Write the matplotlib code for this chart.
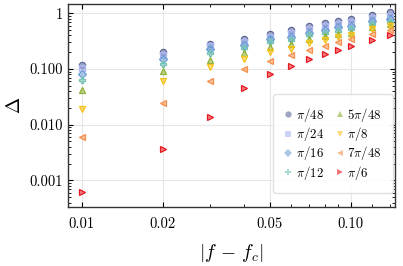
import matplotlib
matplotlib.use('Agg')
import matplotlib.pyplot as plt
from matplotlib.ticker import FixedLocator, FuncFormatter, NullFormatter

plt.rcParams['font.family'] = 'serif'
plt.rcParams['font.serif'] = ['cmr10']
plt.rcParams['mathtext.fontset'] = 'cm'
plt.rcParams['axes.unicode_minus'] = False

df = [0.01, 0.02, 0.03, 0.04, 0.05, 0.06, 0.07, 0.08, 0.09, 0.10, 0.12, 0.14]

labels = [r'$\pi/48$', r'$\pi/24$', r'$\pi/16$', r'$\pi/12$',
          r'$5\pi/48$', r'$\pi/8$', r'$7\pi/48$', r'$\pi/6$']
colors = ['#5c6699', '#a9b6f2', '#6e9fd6', '#73c2b5',
          '#8fb339', '#f7c21a', '#f7904a', '#e8161e']
markers = ['o', 's', 'D', 'P', '^', 'v', '<', '>']

gap_48 = [0.116, 0.20, 0.284, 0.35, 0.43, 0.50, 0.60, 0.67, 0.72, 0.79, 0.94, 1.04]
gap_24 = [0.104, 0.18, 0.255, 0.31, 0.38, 0.45, 0.53, 0.58, 0.64, 0.70, 0.81, 0.90]
gap_16 = [0.083, 0.151, 0.228, 0.273, 0.345, 0.38, 0.45, 0.50, 0.56, 0.60, 0.72, 0.80]
gap_12 = [0.064, 0.124, 0.19, 0.238, 0.30, 0.336, 0.40, 0.44, 0.49, 0.53, 0.64, 0.71]
gap_5_48 = [0.0425, 0.093, 0.145, 0.194, 0.248, 0.28, 0.346, 0.385, 0.425, 0.45, 0.56, 0.64]
gap_8 = [0.019, 0.062, 0.108, 0.151, 0.20, 0.23, 0.293, 0.326, 0.37, 0.40, 0.52, 0.59]
gap_7_48 = [0.006, 0.025, 0.062, 0.10, 0.141, 0.18, 0.222, 0.262, 0.30, 0.346, 0.425, 0.50]
gap_6 = [0.00061, 0.0037, 0.014, 0.046, 0.08, 0.115, 0.151, 0.188, 0.222, 0.262, 0.33, 0.41]

gaps = [gap_48, gap_24, gap_16, gap_12, gap_5_48, gap_8, gap_7_48, gap_6]

fig = plt.figure(figsize=(4.03, 2.66), dpi=100)
ax = fig.add_axes([0.169, 0.221, 0.811, 0.764])

for g, lab, c, m in zip(gaps, labels, colors, markers):
    ax.plot(df, g, ls='none', marker=m, ms=4.5 if m != 'P' else 5,
            mfc=matplotlib.colors.to_rgba(c, 0.55), mec=c, mew=0.9, label=lab)

ax.set_xscale('log')
ax.set_yscale('log')
ax.set_xlim(0.0089, 0.146)
ax.set_ylim(0.00033, 1.47)

ax.xaxis.set_major_locator(FixedLocator([0.01, 0.02, 0.05, 0.10]))
ax.xaxis.set_major_formatter(FuncFormatter(lambda v, p: '%.2f' % v))
ax.xaxis.set_minor_locator(FixedLocator([0.03, 0.04, 0.06, 0.07, 0.08, 0.09, 0.12, 0.14]))
ax.xaxis.set_minor_formatter(NullFormatter())
ax.yaxis.set_major_locator(FixedLocator([0.001, 0.01, 0.1, 1]))
ax.yaxis.set_major_formatter(FuncFormatter(lambda v, p: '1' if v >= 1 else '%.3f' % v))

ax.tick_params(which='both', direction='in', top=True, right=True, labelsize=10.5)
ax.tick_params(which='major', length=3.5, width=0.8)
ax.tick_params(which='minor', length=2, width=0.6)
ax.tick_params(axis='x', pad=7)
for s in ax.spines.values():
    s.set_linewidth(1.0)
    s.set_color('#333333')

ax.grid(True, which='major', color='#e6e6e6', lw=0.8)
ax.set_axisbelow(True)

ax.set_xlabel(r'$|f\, -\, f_c|$', fontsize=14, labelpad=8)
ax.set_ylabel(r'$\Delta$', fontsize=14, rotation=90, labelpad=4)

leg = ax.legend(ncol=2, loc='lower right', bbox_to_anchor=(0.994, 0.069),
                borderaxespad=0, fontsize=9.2, handlelength=0.6,
                handletextpad=0.3, columnspacing=0.9, labelspacing=0.1,
                borderpad=0.9, fancybox=True, framealpha=0.9, edgecolor='#dddddd')
for h in leg.legend_handles:
    h.set_alpha(0.6)
    h.set_markeredgewidth(0)

fig.savefig('out.png', dpi=100)
